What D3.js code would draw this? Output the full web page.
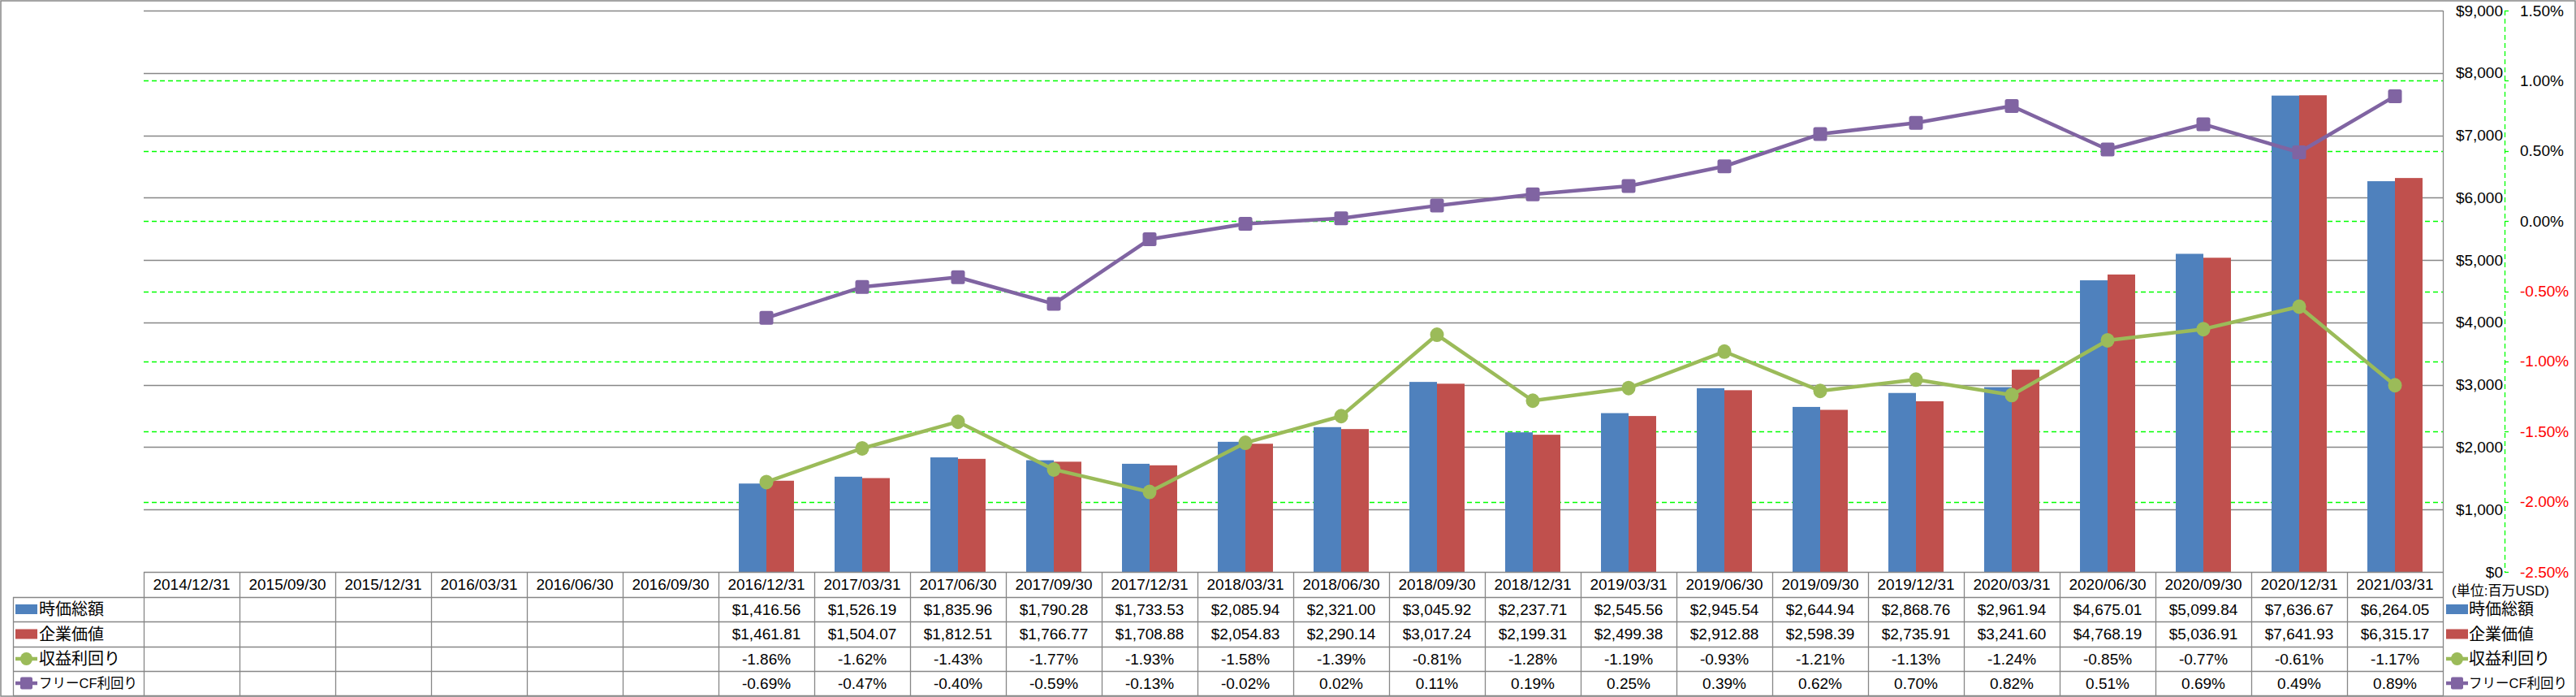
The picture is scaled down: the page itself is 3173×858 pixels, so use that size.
<!DOCTYPE html>
<html><head><meta charset="utf-8">
<script src="https://cdn.jsdelivr.net/npm/d3@7"></script>
<style>
html,body{margin:0;padding:0;background:#fff;}
svg text{font-family:"Liberation Sans","Noto Sans CJK JP",sans-serif;}
</style></head>
<body><svg id="c" width="3173" height="858"></svg>
<script>
const categories = ["2014/12/31","2015/09/30","2015/12/31","2016/03/31","2016/06/30","2016/09/30","2016/12/31","2017/03/31","2017/06/30","2017/09/30","2017/12/31","2018/03/31","2018/06/30","2018/09/30","2018/12/31","2019/03/31","2019/06/30","2019/09/30","2019/12/31","2020/03/31","2020/06/30","2020/09/30","2020/12/31","2021/03/31"];
const marketCap = [null,null,null,null,null,null,1416.56,1526.19,1835.96,1790.28,1733.53,2085.94,2321.00,3045.92,2237.71,2545.56,2945.54,2644.94,2868.76,2961.94,4675.01,5099.84,7636.67,6264.05];
const enterpriseValue = [null,null,null,null,null,null,1461.81,1504.07,1812.51,1766.77,1708.88,2054.83,2290.14,3017.24,2199.31,2499.38,2912.88,2598.39,2735.91,3241.60,4768.19,5036.91,7641.93,6315.17];
const earningsYield = [null,null,null,null,null,null,-1.86,-1.62,-1.43,-1.77,-1.93,-1.58,-1.39,-0.81,-1.28,-1.19,-0.93,-1.21,-1.13,-1.24,-0.85,-0.77,-0.61,-1.17];
const fcfYield = [null,null,null,null,null,null,-0.69,-0.47,-0.40,-0.59,-0.13,-0.02,0.02,0.11,0.19,0.25,0.39,0.62,0.70,0.82,0.51,0.69,0.49,0.89];
const seriesNames = ["時価総額","企業価値","収益利回り","フリーCF利回り"];
const dollarTicks = [0,1000,2000,3000,4000,5000,6000,7000,8000,9000];
const pctTicks = [-2.5,-2.0,-1.5,-1.0,-0.5,0,0.5,1.0,1.5];
const unitLabel = "(単位:百万USD)";

const colors = {mc:"#4F81BD", ev:"#C0504D", ey:"#9BBB59", fcf:"#8064A2"};
const grid = "#878787";
const svg = d3.select("#c");
const L=177, R=3009, T=13, B=704;
const x = d3.scaleBand().domain(categories).range([L,R]);
const yL = d3.scaleLinear().domain([0,9000]).range([B,T]);
const yR = d3.scaleLinear().domain([-2.5,1.5]).range([B,T]);
const bw = x.bandwidth();
const sub = d3.scaleBand().domain(["mc","ev"]).range([-bw*0.288, bw*0.288]);
const cx = c => x(c)+bw/2;
const hy = s => s.replace(/\u2212/g,"-");

// outer border
svg.append("rect").attr("x",1).attr("y",1).attr("width",3171).attr("height",856)
  .attr("fill","none").attr("stroke",grid).attr("stroke-width",1.5);

// gray gridlines
svg.append("g").selectAll("line").data(dollarTicks.filter(d=>d>0)).join("line")
  .attr("x1",L).attr("x2",R).attr("y1",d=>Math.round(yL(d))+0.5).attr("y2",d=>Math.round(yL(d))+0.5)
  .attr("stroke",grid).attr("stroke-width",1.3);
// green dashed gridlines
svg.append("g").selectAll("line").data(pctTicks.filter(d=>d>-2.5&&d<1.5)).join("line")
  .attr("x1",L).attr("x2",R).attr("y1",d=>Math.round(yR(d))+0.5).attr("y2",d=>Math.round(yR(d))+0.5)
  .attr("stroke","#00FF00").attr("stroke-width",1.3).attr("stroke-dasharray","6,4");
// right plot border
svg.append("line").attr("x1",R+0.5).attr("x2",R+0.5).attr("y1",T).attr("y2",B)
  .attr("stroke",grid).attr("stroke-width",1.3);

// bars
const barData = [];
categories.forEach((c,i)=>{
  if(marketCap[i]!=null) barData.push({c,k:"mc",v:marketCap[i]});
  if(enterpriseValue[i]!=null) barData.push({c,k:"ev",v:enterpriseValue[i]});
});
svg.append("g").selectAll("rect").data(barData).join("rect")
  .attr("x",d=>cx(d.c)+sub(d.k)).attr("width",sub.bandwidth())
  .attr("y",d=>yL(d.v)).attr("height",d=>B-yL(d.v)).attr("fill",d=>colors[d.k]);

// lines
function drawLine(vals,color,shape){
  const pts = categories.map((c,i)=>({c,v:vals[i]})).filter(d=>d.v!=null);
  const line = d3.line().x(d=>cx(d.c)).y(d=>yR(d.v));
  svg.append("path").attr("d",line(pts)).attr("fill","none").attr("stroke",color)
    .attr("stroke-width",4.5).attr("stroke-linejoin","round");
  if(shape==="circle"){
    svg.append("g").selectAll("ellipse").data(pts).join("ellipse")
      .attr("cx",d=>cx(d.c)).attr("cy",d=>yR(d.v)).attr("rx",8.5).attr("ry",9).attr("fill",color);
  } else {
    svg.append("g").selectAll("rect").data(pts).join("rect")
      .attr("x",d=>cx(d.c)-8.5).attr("y",d=>yR(d.v)-8.5).attr("width",17).attr("height",17)
      .attr("rx",2.5).attr("fill",color);
  }
}
drawLine(earningsYield,colors.ey,"circle");
drawLine(fcfYield,colors.fcf,"square");

// left ($) axis labels placed on the right
svg.append("g").selectAll("text").data(dollarTicks).join("text")
  .attr("x",3083).attr("y",d=>yL(d)).attr("text-anchor","end").attr("dominant-baseline","central")
  .attr("font-size",19).attr("fill","#000").text(d=>"$"+d3.format(",")(d));
// right (%) axis
svg.append("line").attr("x1",3085.5).attr("x2",3085.5).attr("y1",T).attr("y2",B)
  .attr("stroke","#00FF00").attr("stroke-width",1.3).attr("stroke-dasharray","6,4");
svg.append("g").selectAll("line").data(pctTicks).join("line")
  .attr("x1",3085).attr("x2",3090).attr("y1",d=>Math.round(yR(d))+0.5).attr("y2",d=>Math.round(yR(d))+0.5)
  .attr("stroke","#00FF00").attr("stroke-width",1.3);
svg.append("g").selectAll("text").data(pctTicks).join("text")
  .attr("x",3104).attr("y",d=>yR(d)).attr("dominant-baseline","central")
  .attr("font-size",19).attr("fill",d=>d<0?"#FF0000":"#000").text(d=>hy(d3.format(".2f")(d))+"%");

// data table
const rowLines = [704,735,765,796,826,856];
const tl = 16;
const tg = svg.append("g").attr("stroke",grid).attr("stroke-width",1.3);
tg.append("line").attr("x1",L).attr("x2",R+1).attr("y1",704.5).attr("y2",704.5);
rowLines.slice(1).forEach(y=>tg.append("line").attr("x1",tl).attr("x2",R+1).attr("y1",y+0.5).attr("y2",y+0.5));
tg.append("line").attr("x1",tl+0.5).attr("x2",tl+0.5).attr("y1",735).attr("y2",856);
categories.forEach(c=>tg.append("line").attr("x1",Math.round(x(c))+0.5).attr("x2",Math.round(x(c))+0.5).attr("y1",704).attr("y2",856));
tg.append("line").attr("x1",R+0.5).attr("x2",R+0.5).attr("y1",704).attr("y2",856);

const rowMid = i => (rowLines[i]+rowLines[i+1])/2;
svg.append("g").selectAll("text").data(categories).join("text")
  .attr("x",d=>cx(d)).attr("y",rowMid(0)).attr("text-anchor","middle").attr("dominant-baseline","central")
  .attr("font-size",19).text(d=>d);
const fmtD = v => v==null?"":"$"+d3.format(",.2f")(v);
const fmtP = v => v==null?"":hy(d3.format(".2f")(v))+"%";
[[marketCap,fmtD],[enterpriseValue,fmtD],[earningsYield,fmtP],[fcfYield,fmtP]].forEach(([arr,f],r)=>{
  svg.append("g").selectAll("text").data(categories).join("text")
    .attr("x",d=>cx(d)).attr("y",rowMid(r+1)).attr("text-anchor","middle").attr("dominant-baseline","central")
    .attr("font-size",19).text((d,i)=>f(arr[i]));
});

// legend keys
function legendKey(g,k,x0,y){
  if(k==="mc"||k==="ev"){
    g.append("rect").attr("x",x0).attr("y",y-6).attr("width",27).attr("height",12).attr("fill",colors[k]);
  } else {
    g.append("line").attr("x1",x0).attr("x2",x0+27).attr("y1",y).attr("y2",y).attr("stroke",colors[k]).attr("stroke-width",4.5);
    if(k==="ey") g.append("ellipse").attr("cx",x0+13.5).attr("cy",y).attr("rx",7.5).attr("ry",8).attr("fill",colors[k]);
    else g.append("rect").attr("x",x0+6).attr("y",y-7.5).attr("width",15).attr("height",15).attr("rx",2).attr("fill",colors[k]);
  }
}
const keys = ["mc","ev","ey","fcf"];
const labelSize = [20,20,20,16.5];
const lg = svg.append("g");
keys.forEach((k,i)=>{
  [[19,48],[3013,3041]].forEach(([kx,tx])=>{
    legendKey(lg,k,kx,rowMid(i+1));
    lg.append("text").attr("x",tx).attr("y",rowMid(i+1)).attr("dominant-baseline","central")
      .attr("font-size",labelSize[i]).text(seriesNames[i]);
  });
});
svg.append("text").attr("x",3020).attr("y",727).attr("dominant-baseline","central")
  .attr("font-size",17).text(unitLabel);
</script></body></html>
